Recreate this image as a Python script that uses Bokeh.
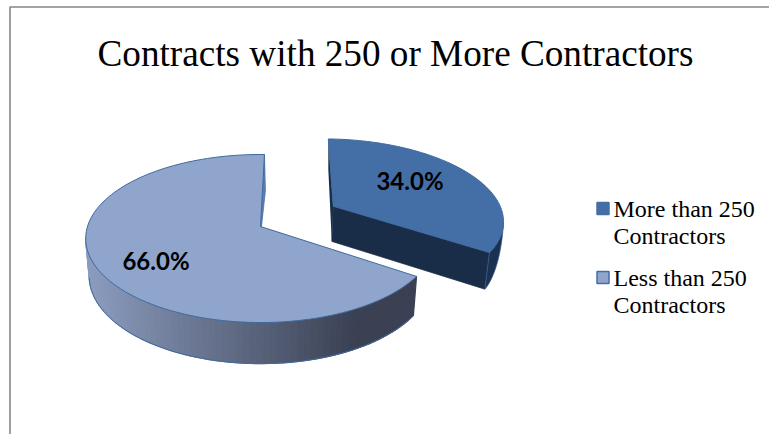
import numpy as np
from bokeh.core.properties import value
from bokeh.embed import file_html
from bokeh.models import Range1d
from bokeh.plotting import figure
from bokeh.resources import INLINE

TITLE = "Contracts with 250 or More Contractors"
categories = ["More than 250 Contractors", "Less than 250 Contractors"]
shares = [34.0, 66.0]
labels = ["34.0%", "66.0%"]

W, H = 769, 434
TOP_COLORS = ["#446fa6", "#8fa5cc"]
EDGE = "#3f6a9e"

# Projection of the tilted pie disc onto the page
CX, CY = 260.0, 226.0
AX, BY, PERSP = 173.0, 82.3, 0.143
START = np.radians(1.5)
EXPLODE = 0.505
EXPLODE_TURN = np.radians(-3)


def project(u, v, lower=False):
    w = 1 + PERSP * v
    x = CX + AX * u / w
    y = CY - BY * v / w
    if lower:
        x = CX + (x - CX) * 0.98
        y = y + 37 - 3.5 * v / w
    return x, y


def mix(a, b, t):
    ca = [int(a[i:i + 2], 16) for i in (1, 3, 5)]
    cb = [int(b[i:i + 2], 16) for i in (1, 3, 5)]
    return "#%02x%02x%02x" % tuple(int(round(p + (q - p) * t)) for p, q in zip(ca, cb))


p = figure(width=W, height=H, output_backend="svg", toolbar_location=None,
           x_range=Range1d(0, W), y_range=Range1d(H, 0), min_border=0,
           outline_line_color=None, background_fill_color="white")
p.axis.visible = False
p.grid.visible = False

# Chart frame, open at the right and bottom
p.line([9.5, 9.5, W], [H, 6.5, 6.5], line_color="#868686", line_width=1.6)

p.text([395], [53], text=[TITLE], text_font=value("Liberation Serif"),
       text_font_size="37.2px", text_align="center", text_baseline="middle", text_color="#000000")

fracs = np.cumsum([0] + shares) / sum(shares)
t0, t1 = START + 2 * np.pi * fracs[0], START + 2 * np.pi * fracs[1]
t2 = START + 2 * np.pi * fracs[2]
mid = (t0 + t1) / 2 + EXPLODE_TURN
du, dv = EXPLODE * np.sin(mid), EXPLODE * np.cos(mid)

# Second slice: outer wall shaded left to right
th = np.linspace(t1, t2, 121)
ux, vy = np.sin(th), np.cos(th)
xt, yt = project(ux, vy)
xb, yb = project(ux, vy, lower=True)
xs, ys, cs = [], [], []
for i in range(len(th) - 1):
    if vy[i] > -PERSP and vy[i + 1] > -PERSP:
        continue
    xs.append([xt[i], xt[i + 1], xb[i + 1], xb[i]])
    ys.append([yt[i], yt[i + 1], yb[i + 1], yb[i]])
    g = np.clip((xt[i] - 88) / 270, 0, 1)
    cs.append(mix("#8b9cbe", "#3b4153", g))
p.patches(xs, ys, fill_color=cs, line_color=cs, line_width=1.2)
front = vy < -PERSP
p.line(xb[front], yb[front], line_color=EDGE, line_width=1)

# Thin sliver of the cut face beside the top of the second slice
ex, ey = project(np.sin(t2), np.cos(t2))
ax, ay = project(0, 0)
p.patch([ex, ex + 1, ax + 1, ax], [ey, ey + 36, ay, ay], fill_color="#5f7fae", line_color=EDGE, line_width=0.7)

# Second slice: top face
xa = np.r_[ax, xt, ax]
ya = np.r_[ay, yt, ay]
p.patch(xa, ya, fill_color=TOP_COLORS[1], line_color=EDGE, line_width=1)

# First slice, pulled out along its bisector
th = np.linspace(t0, t1, 121)
ux, vy = du + np.sin(th), dv + np.cos(th)
xt, yt = project(ux, vy)
xb, yb = project(ux, vy, lower=True)
yb = yb - 1.5
apx, apy = project(du, dv)
apbx, apby = project(du, dv, lower=True)
apby = apby - 1

# Its cut face towards the viewer
p.patch([apx, xt[-1], xb[-1], apbx], [apy, yt[-1], yb[-1], apby],
        fill_color="#1a2d48", line_color="#1a2d48", line_width=0.7)

# Its outer wall at the right, tapering away behind the top face
k = int(np.argmax(xt))
arc_x, arc_y = xt[k:][::-1], yt[k:][::-1]
s = np.linspace(0, 1, len(arc_x))
depth = yb[-1] - yt[-1]
low_x = arc_x + (xb[-1] - xt[-1]) * (1 - s)
low_y = arc_y + depth * (1 - s ** 1.5)
p.patch(np.r_[arc_x, low_x[::-1]], np.r_[arc_y, low_y[::-1]],
        fill_color="#1b3151", line_color="#3a6295", line_width=0.7)

# Sliver at the back edge
p.patch([apx, xt[0], xt[0], apx - 1.5], [apy, yt[0], yt[0] + 30, apy + 35],
        fill_color="#1a2d48", line_color=None)
p.patch(np.r_[apx, xt, apx], np.r_[apy, yt, apy], fill_color=TOP_COLORS[0], line_color=EDGE, line_width=1)

# Value labels
p.text([409.5, 155.5], [180, 259.5], text=labels, text_font=value("Lato"), text_font_style="bold",
       text_font_size="24px", text_align="center", text_baseline="middle", text_color="#000000")

# Legend
for yc, col, edge in zip([208, 277], TOP_COLORS, ["#446fa6", "#446fa6"]):
    p.rect([602.5], [yc], width=12, height=12, fill_color=col, line_color=edge, line_width=1.5)
legend_rows = [(c.split(" Contractors")[0], "Contractors") for c in categories]
for yc, (l1, l2) in zip([208, 277], legend_rows):
    p.text([613, 613], [yc, yc + 27.5], text=[l1, l2], text_font=value("Liberation Serif"),
           text_font_size="24px", text_align="left", text_baseline="middle", text_color="#000000")

p.border_fill_color = "white"
open("out.html", "w").write(file_html(p, INLINE))
